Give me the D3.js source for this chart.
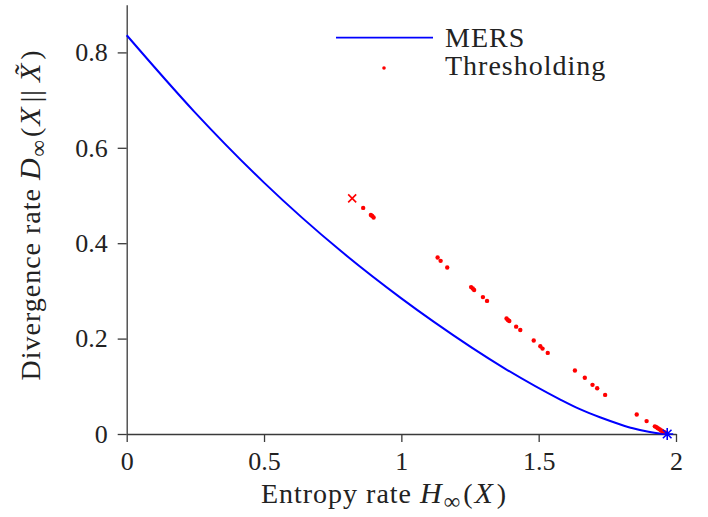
<!DOCTYPE html>
<html>
<head>
<meta charset="UTF-8">
<script src="https://d3js.org/d3.v7.min.js"></script>
<style>
  body { margin: 0; background: #fff; }
  svg { display: block; font-family: "Liberation Serif", "DejaVu Serif", serif; }
  .axis path, .axis line { stroke: #3a3a3a; stroke-width: 1.3; }
  .axis text { font-size: 26px; fill: #222; font-family: "Liberation Serif", serif; }
  .label { font-size: 28px; fill: #222; letter-spacing: 1px; }
  .m { font-style: italic; font-size: 30px; }
</style>
</head>
<body>
<svg id="chart" width="708" height="517"></svg>
<script>
// MERS curve (entropy rate vs divergence rate)
const mersH = [0, 0.245, 0.5, 0.78, 1.0, 1.12, 1.377, 1.577, 1.65, 1.723, 1.8, 1.843, 1.9, 1.94, 1.968];
const mersD = [0.836, 0.6765, 0.527, 0.3835, 0.2844, 0.2345, 0.1372, 0.0727, 0.052, 0.035, 0.0195, 0.012, 0.0045, 0.0012, 0];

// Thresholding points
const thrH = [0.861, 0.889, 0.894, 0.899, 1.132, 1.143, 1.167, 1.254, 1.260, 1.265, 1.297, 1.312,
  1.383, 1.388, 1.393, 1.418, 1.433, 1.482, 1.506, 1.514, 1.533, 1.632, 1.668, 1.696, 1.713,
  1.742, 1.857, 1.893, 1.923, 1.929, 1.934, 1.940, 1.945, 1.950, 1.956, 1.961, 1.966];
const thrD = [0.474, 0.459, 0.457, 0.454, 0.370, 0.363, 0.349, 0.308, 0.305, 0.302, 0.287, 0.279,
  0.242, 0.239, 0.237, 0.225, 0.218, 0.196, 0.184, 0.179, 0.170, 0.133, 0.118, 0.103, 0.096,
  0.082, 0.041, 0.027, 0.016, 0.014, 0.012, 0.0099, 0.0078, 0.0059, 0.0042, 0.0025, 0.001];

// special markers
const crossPt = [0.821, 0.494];   // red x
const starPt = [1.968, 0];        // blue asterisk

const xTicks = [0, 0.5, 1, 1.5, 2];
const yTicks = [0, 0.2, 0.4, 0.6, 0.8];
const xTickLabels = ["0", "0.5", "1", "1.5", "2"];
const yTickLabels = ["0", "0.2", "0.4", "0.6", "0.8"];

const svg = d3.select("#chart");

const x = d3.scaleLinear().domain([0, 2]).range([126.7, 676]);
const y = d3.scaleLinear().domain([0, 0.9]).range([434, 434 - 0.9 * 477]);

// axes
svg.append("g")
  .attr("class", "axis")
  .attr("transform", "translate(0,434)")
  .call(d3.axisBottom(x).tickValues(xTicks).tickSize(8).tickSizeOuter(0).tickPadding(10)
    .tickFormat((d, i) => xTickLabels[i]));

svg.append("g")
  .attr("class", "axis")
  .attr("transform", "translate(126.7,0)")
  .call(d3.axisLeft(y).tickValues(yTicks).tickSize(9).tickSizeOuter(0).tickPadding(10)
    .tickFormat((d, i) => yTickLabels[i]));

// MERS line
const mers = mersH.map((h, i) => [h, mersD[i]]);
svg.append("path")
  .datum(mers)
  .attr("fill", "none")
  .attr("stroke", "#0000ff")
  .attr("stroke-width", 2)
  .attr("d", d3.line().x(d => x(d[0])).y(d => y(d[1])).curve(d3.curveMonotoneX));

// thresholding dots
svg.append("g").selectAll("circle")
  .data(thrH.map((h, i) => [h, thrD[i]]))
  .join("circle")
  .attr("cx", d => x(d[0]))
  .attr("cy", d => y(d[1]))
  .attr("r", 2.2)
  .attr("fill", "#ff0000");

// red cross
svg.append("path")
  .attr("transform", `translate(${x(crossPt[0])},${y(crossPt[1])})`)
  .attr("d", "M-4,-4L4,4M-4,4L4,-4")
  .attr("stroke", "#ff0000")
  .attr("stroke-width", 1.6);

// blue asterisk
svg.append("path")
  .attr("transform", `translate(${x(starPt[0])},${y(starPt[1])})`)
  .attr("d", "M-6,0L6,0M0,-6L0,6M-4.3,-4.3L4.3,4.3M-4.3,4.3L4.3,-4.3")
  .attr("stroke", "#0000ff")
  .attr("stroke-width", 1.6);

// axis labels
const xl = svg.append("text").attr("class", "label")
  .attr("x", 384).attr("y", 503).attr("text-anchor", "middle");
xl.append("tspan").text("Entropy rate ");
xl.append("tspan").attr("class", "m").text("H");
xl.append("tspan").attr("font-size", "23px").attr("dy", 6).attr("dx", 1).text("∞");
xl.append("tspan").attr("dy", -6).attr("dx", 2).text("(");
xl.append("tspan").attr("class", "m").attr("dx", 1).text("X");
xl.append("tspan").attr("dx", 3).text(")");

const yl = svg.append("text").attr("class", "label")
  .attr("transform", "translate(40,215) rotate(-90)")
  .attr("text-anchor", "middle");
yl.append("tspan").text("Divergence rate ");
yl.append("tspan").attr("class", "m").text("D");
yl.append("tspan").attr("font-size", "23px").attr("dy", 6).attr("dx", 1).text("∞");
yl.append("tspan").attr("dy", -6).attr("dx", 2).text("(");
yl.append("tspan").attr("class", "m").attr("dx", 1).text("X");
yl.append("tspan").attr("dx", 4).text("||");
yl.append("tspan").attr("class", "m").attr("dx", 7).text("X\u0303");
yl.append("tspan").attr("dx", 3).text(")");

// legend
const lg = svg.append("g");
lg.append("line").attr("x1", 336).attr("x2", 433).attr("y1", 37.7).attr("y2", 37.7)
  .attr("stroke", "#0000ff").attr("stroke-width", 1.8);
lg.append("text").attr("class", "label").attr("x", 445).attr("y", 47).text("MERS");
lg.append("circle").attr("cx", 384).attr("cy", 68).attr("r", 1.8).attr("fill", "#ff0000");
lg.append("text").attr("class", "label").attr("x", 445).attr("y", 75).text("Thresholding");
</script>
</body>
</html>
